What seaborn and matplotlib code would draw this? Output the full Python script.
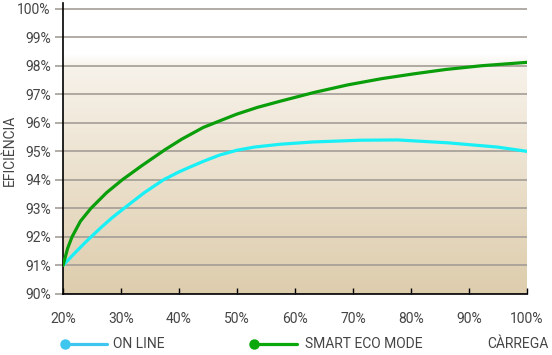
"""Efficiency curves: ON LINE vs SMART ECO MODE by load."""

import matplotlib

matplotlib.use("Agg")

import matplotlib.pyplot as plt
import numpy as np
import pandas as pd
import seaborn as sns
from matplotlib.lines import Line2D


# load (%) and efficiency (%)
ON_LINE_LOAD = [20, 22, 24, 26.5, 28.5, 30.5, 34, 37.3, 40, 41.9, 44.2, 47, 50,
                53, 57.5, 63.2, 71.2, 77.7, 86.3, 94.9, 100]
ON_LINE_EFF = [91.0, 91.43, 91.84, 92.32, 92.68, 93.0, 93.55, 94.0, 94.28, 94.45,
               94.65, 94.87, 95.04, 95.15, 95.25, 95.33, 95.39, 95.4, 95.3, 95.15, 95.0]

ECO_LOAD = [20, 20.8, 21.55, 23, 24.8, 27.5, 30.2, 33.6, 37.6, 40.5, 44.2, 49.9,
            53.5, 57.5, 63.2, 69.1, 75, 80.6, 86, 92.1, 100]
ECO_EFF = [91.0, 91.6, 92.0, 92.55, 93.0, 93.55, 94.0, 94.5, 95.06, 95.43, 95.84,
           96.3, 96.54, 96.76, 97.06, 97.33, 97.55, 97.72, 97.87, 98.0, 98.12]

SERIES_NAMES = ["ON LINE", "SMART ECO MODE"]
X_TICKS = [20, 30, 40, 50, 60, 70, 80, 90, 100]
Y_TICKS = [90, 91, 92, 93, 94, 95, 96, 97, 98, 99, 100]

W, H = 552, 355
TEXT = "#454545"
GRID = "#a39d96"
LINE_COLORS = {"ON LINE": "#19f0f5", "SMART ECO MODE": "#0a9e0a"}
LEGEND_COLORS = {"ON LINE": "#3ec6ee", "SMART ECO MODE": "#0aa80a"}


def build_frame() -> pd.DataFrame:
    on_line = pd.DataFrame({"load": ON_LINE_LOAD, "eff": ON_LINE_EFF, "series": SERIES_NAMES[0]})
    eco = pd.DataFrame({"load": ECO_LOAD, "eff": ECO_EFF, "series": SERIES_NAMES[1]})
    return pd.concat([on_line, eco], ignore_index=True)


def background(ax, y0=90.0, y1=100.2) -> None:
    # vertical gradient: tan at the bottom, fading to white above ~98%
    ys = np.linspace(y1, y0, 400)
    tan = np.array([222, 205, 173]) / 255
    light = np.array([247, 242, 234]) / 255
    white = np.ones(3)
    rows = []
    for y in ys:
        if y <= 98.0:
            t = (y - y0) / (98.0 - y0)
            rows.append(tan + (light - tan) * t)
        elif y <= 98.4:
            t = (y - 98.0) / 0.4
            rows.append(light + (white - light) * t)
        else:
            rows.append(white)
    img = np.array(rows)[:, None, :]
    ax.imshow(img, extent=[20, 100, y0, y1], aspect="auto", zorder=0,
              interpolation="bilinear")


def main() -> None:
    sns.set_theme(style="white")
    plt.rcParams["font.family"] = ["Roboto", "DejaVu Sans"]
    plt.rcParams["font.size"] = 10

    df = build_frame()

    fig = plt.figure(figsize=(W / 100, H / 100), dpi=100)
    ax = fig.add_axes([63 / W, 1 - 294 / H, (527 - 63) / W, (294 - 3) / H])

    background(ax)
    sns.lineplot(data=df, x="load", y="eff", hue="series", palette=LINE_COLORS,
                 linewidth=2.3, legend=False, ax=ax, zorder=3)
    for line in ax.get_lines():
        line.set_solid_joinstyle("round")
        line.set_solid_capstyle("round")

    ax.set_xlim(20, 100)
    ax.set_ylim(90, 100.2)
    ax.set_xticks(X_TICKS)
    ax.set_xticklabels([f"{v}%" for v in X_TICKS])
    ax.set_yticks(Y_TICKS)
    ax.set_yticklabels([f"{v}%" for v in Y_TICKS])
    ax.set_xlabel("")
    ax.set_ylabel("")

    ax.set_axisbelow(True)
    ax.yaxis.grid(True, color=GRID, linewidth=1.2)
    ax.xaxis.grid(False)

    for side in ["top", "right"]:
        ax.spines[side].set_visible(False)
    for side in ["left", "bottom"]:
        ax.spines[side].set_color("black")
        ax.spines[side].set_linewidth(1.2)

    ax.tick_params(axis="x", direction="in", length=4.5, width=1, color="black",
                   labelcolor=TEXT, labelsize=10, pad=13, bottom=True)
    ax.tick_params(axis="y", direction="out", length=5.8, width=1.2, color=GRID,
                   labelcolor=TEXT, labelsize=10, pad=3, left=True)

    fig.text(10 / W, 1 - 150 / H, "EFICIÈNCIA", rotation=90, ha="center",
             va="center", color=TEXT, fontsize=10)

    # legend drawn by hand: dot at the left end of each line
    ly = 1 - 344 / H
    entries = [("ON LINE", 65, 107, 113), ("SMART ECO MODE", 254, 297, 305)]
    for name, x0, x1, xt in entries:
        color = LEGEND_COLORS[name]
        fig.add_artist(Line2D([x0 / W, x1 / W], [ly, ly], color=color, lw=2.3,
                              transform=fig.transFigure))
        fig.add_artist(Line2D([x0 / W], [ly], marker="o", ms=6.5, color=color,
                              transform=fig.transFigure))
        fig.text(xt / W, ly, name, ha="left", va="center", color=TEXT, fontsize=10)
    fig.text(548 / W, ly, "CÀRREGA", ha="right", va="center", color=TEXT, fontsize=10)

    fig.savefig("out.png", dpi=100)
    plt.close(fig)


if __name__ == "__main__":
    main()
